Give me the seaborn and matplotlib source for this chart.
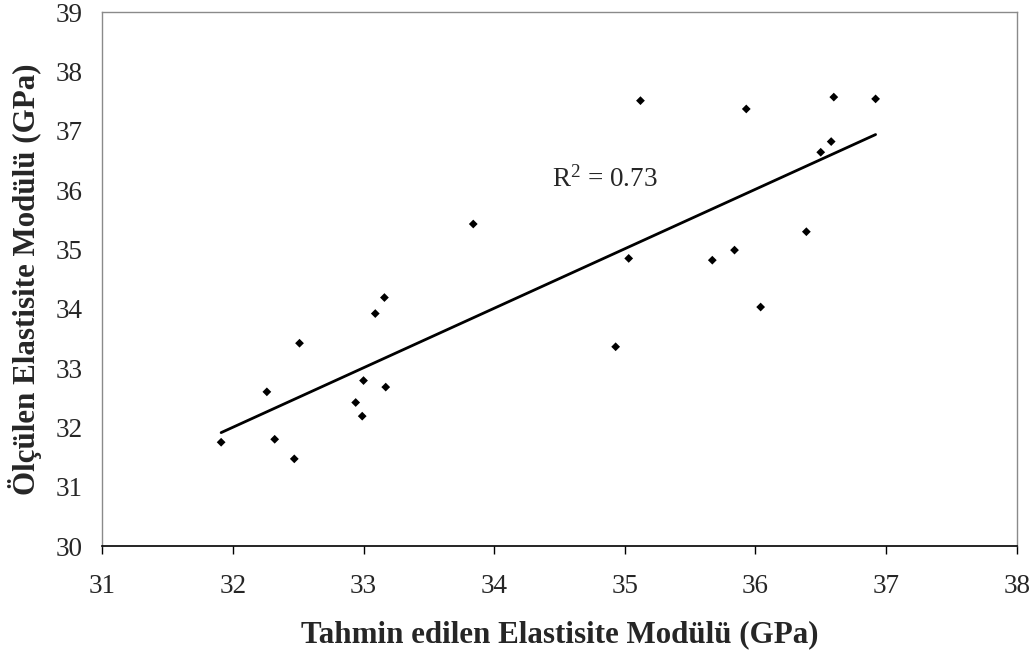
import numpy as np
import pandas as pd
import matplotlib
matplotlib.use('Agg')
import matplotlib.pyplot as plt
import seaborn as sns

# predicted vs measured elastic modulus (GPa)
predicted = [31.91, 32.26, 32.32, 32.47, 32.51, 32.94, 33.00, 32.99, 33.17, 33.09,
             33.16, 33.84, 34.93, 35.03, 35.12, 35.67, 35.84, 35.93, 36.04, 36.39,
             36.50, 36.58, 36.60, 36.92]
measured = [31.75, 32.60, 31.80, 31.47, 33.42, 32.42, 32.79, 32.19, 32.68, 33.92,
            34.19, 35.43, 33.36, 34.85, 37.51, 34.82, 34.99, 37.37, 34.03, 35.30,
            36.64, 36.82, 37.57, 37.54]
r2_text = 'R$^{2}$ = 0.73'
x_ticks = list(range(31, 39))
y_ticks = list(range(30, 40))

df = pd.DataFrame({'predicted': predicted, 'measured': measured})

sns.set_style('white')
plt.rcParams['font.family'] = ['Liberation Serif', 'DejaVu Serif']
plt.rcParams['mathtext.default'] = 'regular'

fig, ax = plt.subplots(figsize=(10.35, 6.54), dpi=100)
fig.subplots_adjust(left=0.0988, right=0.9823, top=0.9812, bottom=0.1651)

sns.scatterplot(data=df, x='predicted', y='measured', marker='D', s=20,
                color='black', edgecolor='none', ax=ax, zorder=3)
sns.regplot(data=df, x='predicted', y='measured', scatter=False, ci=None,
            line_kws={'color': 'black', 'linewidth': 2.0}, ax=ax)

ax.set_xlim(31, 38)
ax.set_ylim(30, 39)
ax.set_xticks(x_ticks)
ax.set_yticks(y_ticks)
ax.tick_params(axis='x', direction='out', length=5.8, width=1, color='black',
               labelsize=19.5, pad=14.5, bottom=True)
ax.tick_params(axis='y', length=0, labelsize=19.5, pad=14)

for side in ['left', 'top', 'right']:
    ax.spines[side].set_color('#8a8a8a')
    ax.spines[side].set_linewidth(1.0)
ax.spines['bottom'].set_color('black')
ax.spines['bottom'].set_linewidth(1.2)

ax.set_xlabel('Tahmin edilen Elastisite Modülü (GPa)', fontsize=22.3,
              fontweight='bold', labelpad=15)
ax.set_ylabel('Ölçülen Elastisite Modülü (GPa)', fontsize=22.3,
              fontweight='bold', labelpad=10)

ax.text(34.44, 36.06, r2_text, fontsize=19.5, ha='left', va='baseline')

fig.savefig('out.png', dpi=100)
